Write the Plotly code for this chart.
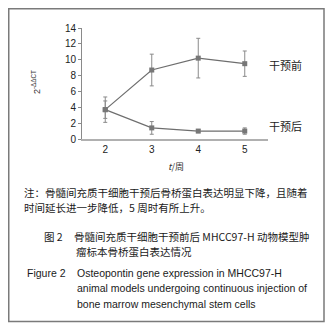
import plotly.graph_objects as go

weeks = ["2", "3", "4", "5"]
pre_vals = [3.7, 8.7, 10.2, 9.5]
pre_err = [1.6, 2.0, 2.5, 1.6]
post_vals = [3.7, 1.4, 1.0, 1.0]
post_err = [1.1, 0.8, 0.2, 0.4]
series_labels = ["干预前", "干预后"]
y_ticks = [0, 2, 4, 6, 8, 10, 12, 14]

# page is rendered with an 8px body margin: the figure is shrunk by that
OFF = 8
W, H = 334 - OFF, 333 - OFF
L, R, T, B = 82, 268, 28, 139  # plot area in page pixels

def px(x):
    return (x - L) / (R - L)

def py(y):
    return (B - y) / (B - T)

cjk = "Noto Sans CJK SC"
lat = "Liberation Sans, Arial"
gray = "#6e6e6e"

fig = go.Figure()
for vals, err in [(pre_vals, pre_err), (post_vals, post_err)]:
    fig.add_trace(go.Scatter(
        x=weeks, y=vals, mode="lines+markers",
        line=dict(color=gray, width=1.2),
        marker=dict(symbol="square", size=5, color="#777777"),
        error_y=dict(type="data", array=err, visible=True, color="#8a8a8a",
                     thickness=1, width=2),
        showlegend=False,
    ))

fig.add_annotation(x=px(267), y=py(65), xref="paper", yref="paper",
                   text=series_labels[0], showarrow=False,
                   xanchor="left", yanchor="middle",
                   font=dict(family=cjk, size=11, color="#222"))
fig.add_annotation(x=px(267), y=py(126), xref="paper", yref="paper",
                   text=series_labels[1], showarrow=False,
                   xanchor="left", yanchor="middle",
                   font=dict(family=cjk, size=11, color="#222"))

# axis titles
fig.add_annotation(x=px(36), y=py(82), xref="paper", yref="paper",
                   text="2<sup>-ΔΔCT</sup>", textangle=-90, showarrow=False,
                   xanchor="center", yanchor="middle",
                   font=dict(family=lat, size=9, color="#333"))
fig.add_annotation(x=px(176), y=py(166), xref="paper", yref="paper",
                   text="<i>t</i>/周", showarrow=False,
                   xanchor="center", yanchor="middle",
                   font=dict(family=cjk, size=9, color="#333"))

texts = [
    (22, 192, "注：骨髓间充质干细胞干预后骨桥蛋白表达明显下降，且随着", cjk),
    (22, 207, "时间延长进一步降低，5 周时有所上升。", cjk),
    (42, 237, "图 2", cjk),
    (72, 237, "骨髓间充质干细胞干预前后 MHCC97-H 动物模型肿", cjk),
    (74, 252, "瘤标本骨桥蛋白表达情况", cjk),
    (25, 273, "Figure 2", lat),
    (75, 273, "Osteopontin gene expression in MHCC97-H", lat),
    (75, 288, "animal models undergoing continuous injection of", lat),
    (75, 304, "bone marrow mesenchymal stem cells", lat),
]
for x, y, t, f in texts:
    fig.add_annotation(x=px(x), y=py(y), xref="paper", yref="paper", text=t,
                       showarrow=False, xanchor="left", yanchor="middle",
                       font=dict(family=f, size=10.5, color="#1a1a1a"))

fig.add_shape(type="rect", xref="paper", yref="paper",
              x0=px(OFF + 0.75), x1=px(324), y0=py(OFF + 0.75), y1=py(321.5),
              line=dict(color="#7a7a7a", width=1.5))

fig.update_xaxes(type="category", range=[-0.5, 3.5], showline=True,
                 linecolor="#b0b0b0", linewidth=2, ticks="", showgrid=False,
                 tickfont=dict(family=lat, size=10, color="#222"), zeroline=False)
fig.update_yaxes(range=[0, 14], tickvals=y_ticks, showline=True,
                 linecolor="#8a8a8a", linewidth=1, ticks="outside", ticklen=3,
                 tickcolor="#8a8a8a", showgrid=False, zeroline=False,
                 tickfont=dict(family=lat, size=10, color="#222"))

fig.update_layout(width=W, height=H,
                  margin=dict(l=L - OFF, r=W - (R - OFF), t=T - OFF,
                              b=H - (B - OFF), autoexpand=False),
                  plot_bgcolor="white", paper_bgcolor="white")

fig.write_html("out.html")
